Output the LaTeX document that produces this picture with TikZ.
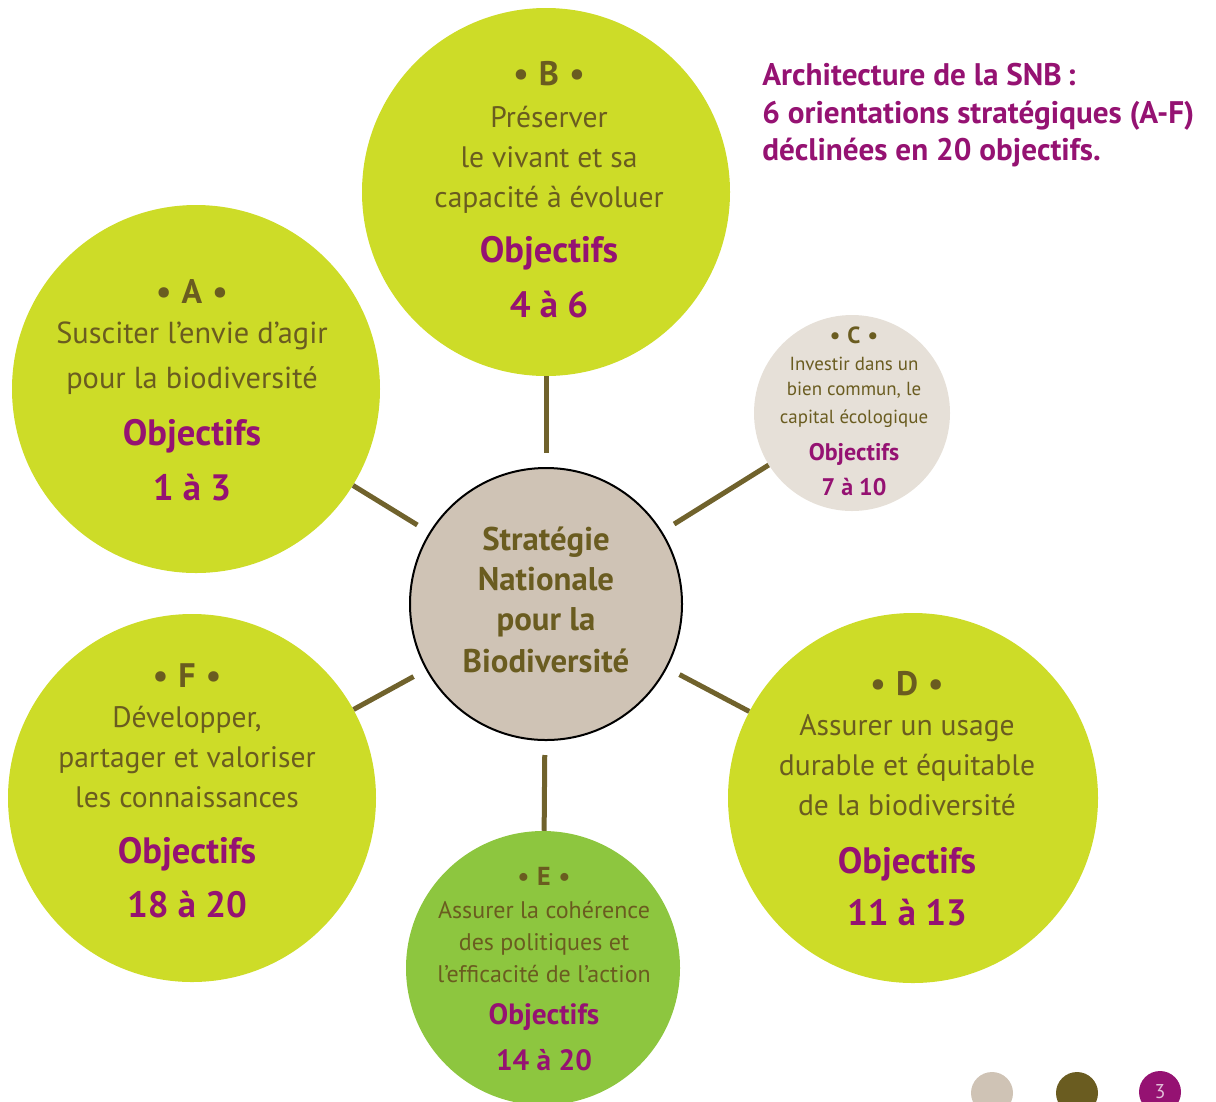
\documentclass[tikz,border=0pt]{standalone}
\usepackage{fontspec}
\setmainfont{PT Sans}
\definecolor{lime}{RGB}{205,220,40}
\definecolor{egreen}{RGB}{141,198,63}
\definecolor{cbeige}{RGB}{207,195,181}
\definecolor{lbeige}{RGB}{230,224,216}
\definecolor{olivetxt}{RGB}{106,92,32}
\definecolor{olivecon}{RGB}{112,98,44}
\definecolor{mag}{RGB}{149,18,114}
\definecolor{pinktxt}{RGB}{225,190,215}
\newcommand\fs[1]{\fontsize{#1}{#1}\selectfont}
\newcommand\hd[1]{•\hspace{0.3em}#1\hspace{0.3em}•}
\begin{document}
\begin{tikzpicture}[x=0.75pt,y=-0.75pt,
  circ/.style={circle,inner sep=0pt,draw=none},
  conn/.style={draw=olivecon,line width=3.75pt,shorten >=10.5pt},
  hdr/.style={anchor=base,inner sep=0pt,text=olivetxt,font=\bfseries\fs{25.5}},
  body/.style={anchor=base,inner sep=0pt,text=olivetxt,font=\fs{22.2}},
  obj/.style={anchor=base,inner sep=0pt,text=mag,font=\bfseries\fs{27.5}},
  hdrS/.style={hdr,font=\bfseries\fs{17.5}},
  bodyS/.style={body,font=\fs{14.2}},
  objS/.style={obj,font=\bfseries\fs{18}},
  hdrE/.style={hdr,font=\bfseries\fs{19.5}},
  bodyE/.style={body,font=\fs{18}},
  objE/.style={obj,font=\bfseries\fs{22}},
  ctr/.style={anchor=base,inner sep=0pt,text=olivetxt,font=\bfseries\fs{24.6}},
  ttl/.style={anchor=base west,inner sep=0pt,text=mag,font=\bfseries\fs{23.4}},
  dot/.style={circle,inner sep=0pt,minimum size=31.5pt}
]
\useasboundingbox (0,0) rectangle (1216,1101);
% circles
\node[circ,fill=cbeige,draw=black,line width=1.5pt,minimum size=204pt] (S) at (546,604) {};
\node[circ,fill=lime,minimum size=276pt] (B) at (546,192) {};
\node[circ,fill=lime,minimum size=276pt] (A) at (196,389) {};
\node[circ,fill=lbeige,minimum size=147pt] (C) at (852,413) {};
\node[circ,fill=lime,minimum size=277.5pt] (D) at (913,798) {};
\node[circ,fill=lime,minimum size=276pt] (F) at (192,798) {};
\node[circ,fill=egreen,minimum size=205.5pt] (E) at (543,968) {};
% connectors
\draw[conn] (B) -- (S);
\draw[conn] (A) -- (S);
\draw[conn] (C) -- (S);
\draw[conn] (D) -- (S);
\draw[conn] (F) -- (S);
\draw[conn] (E) -- (S);
% center text
\node[ctr] (s1) at (546,550) {Stratégie};
\node[ctr] (s2) at (546,590) {Nationale};
\node[ctr] (s3) at (546,630) {pour la};
\node[ctr] (s4) at (546,672) {Biodiversité};
% B
\node[hdr] (b0) at (549,85) {\hd{B}};
\node[body] (b1) at (549,127) {Préserver};
\node[body] (b2) at (549,167) {le vivant et sa};
\node[body] (b3) at (549,207) {capacité à évoluer};
\node[obj] (b4) at (549,262) {Objectifs};
\node[obj] (b5) at (549,317) {4 à 6};
% A
\node[hdr] (a0) at (192,303) {\hd{A}};
\node[body,font=\fs{22.8}] (a1) at (192,343) {Susciter l’envie d’agir};
\node[body,font=\fs{22.8}] (a2) at (192,388) {pour la biodiversité};
\node[obj] (a4) at (192,445) {Objectifs};
\node[obj] (a5) at (192,500) {1 à 3};
% C
\node[hdrS] (c0) at (854,343) {\hd{C}};
\node[bodyS] (c1) at (854,370) {Investir dans un};
\node[bodyS] (c2) at (854,395) {bien commun, le};
\node[bodyS] (c3) at (854,423) {capital écologique};
\node[objS] (c4) at (854,460) {Objectifs};
\node[objS] (c5) at (854,495) {7 à 10};
% D
\node[hdr] (d0) at (907,695) {\hd{D}};
\node[body] (d1) at (907,735) {Assurer un usage};
\node[body] (d2) at (907,775) {durable et équitable};
\node[body] (d3) at (907,815) {de la biodiversité};
\node[obj] (d4) at (907,873) {Objectifs};
\node[obj] (d5) at (907,925) {11 à 13};
% F
\node[hdr] (f0) at (187,687) {\hd{F}};
\node[body] (f1) at (187,727) {Développer,};
\node[body] (f2) at (187,767) {partager et valoriser};
\node[body] (f3) at (187,807) {les connaissances};
\node[obj] (f4) at (187,863) {Objectifs};
\node[obj] (f5) at (187,917) {18 à 20};
% E
\node[hdrE] (e0) at (544,885) {\hd{E}};
\node[bodyE] (e1) at (544,918) {Assurer la cohérence};
\node[bodyE] (e2) at (544,950) {des politiques et};
\node[bodyE] (e3) at (544,982) {l’efficacité de l’action};
\node[objE] (e4) at (544,1024) {Objectifs};
\node[objE] (e5) at (544,1070) {14 à 20};
% title
\node[ttl] (t1) at (762,85) {Architecture de la SNB\,:};
\node[ttl] (t2) at (762,123) {6 orientations stratégiques (A-F)};
\node[ttl] (t3) at (762,160) {déclinées en 20 objectifs.};
% page dots
\node[dot,fill=cbeige] (p1) at (992,1093) {};
\node[dot,fill=olivetxt] (p2) at (1077,1093) {};
\node[dot,fill=mag,text=pinktxt,font=\fs{15}] (p3) at (1160,1092) {3};
\end{tikzpicture}
\end{document}
